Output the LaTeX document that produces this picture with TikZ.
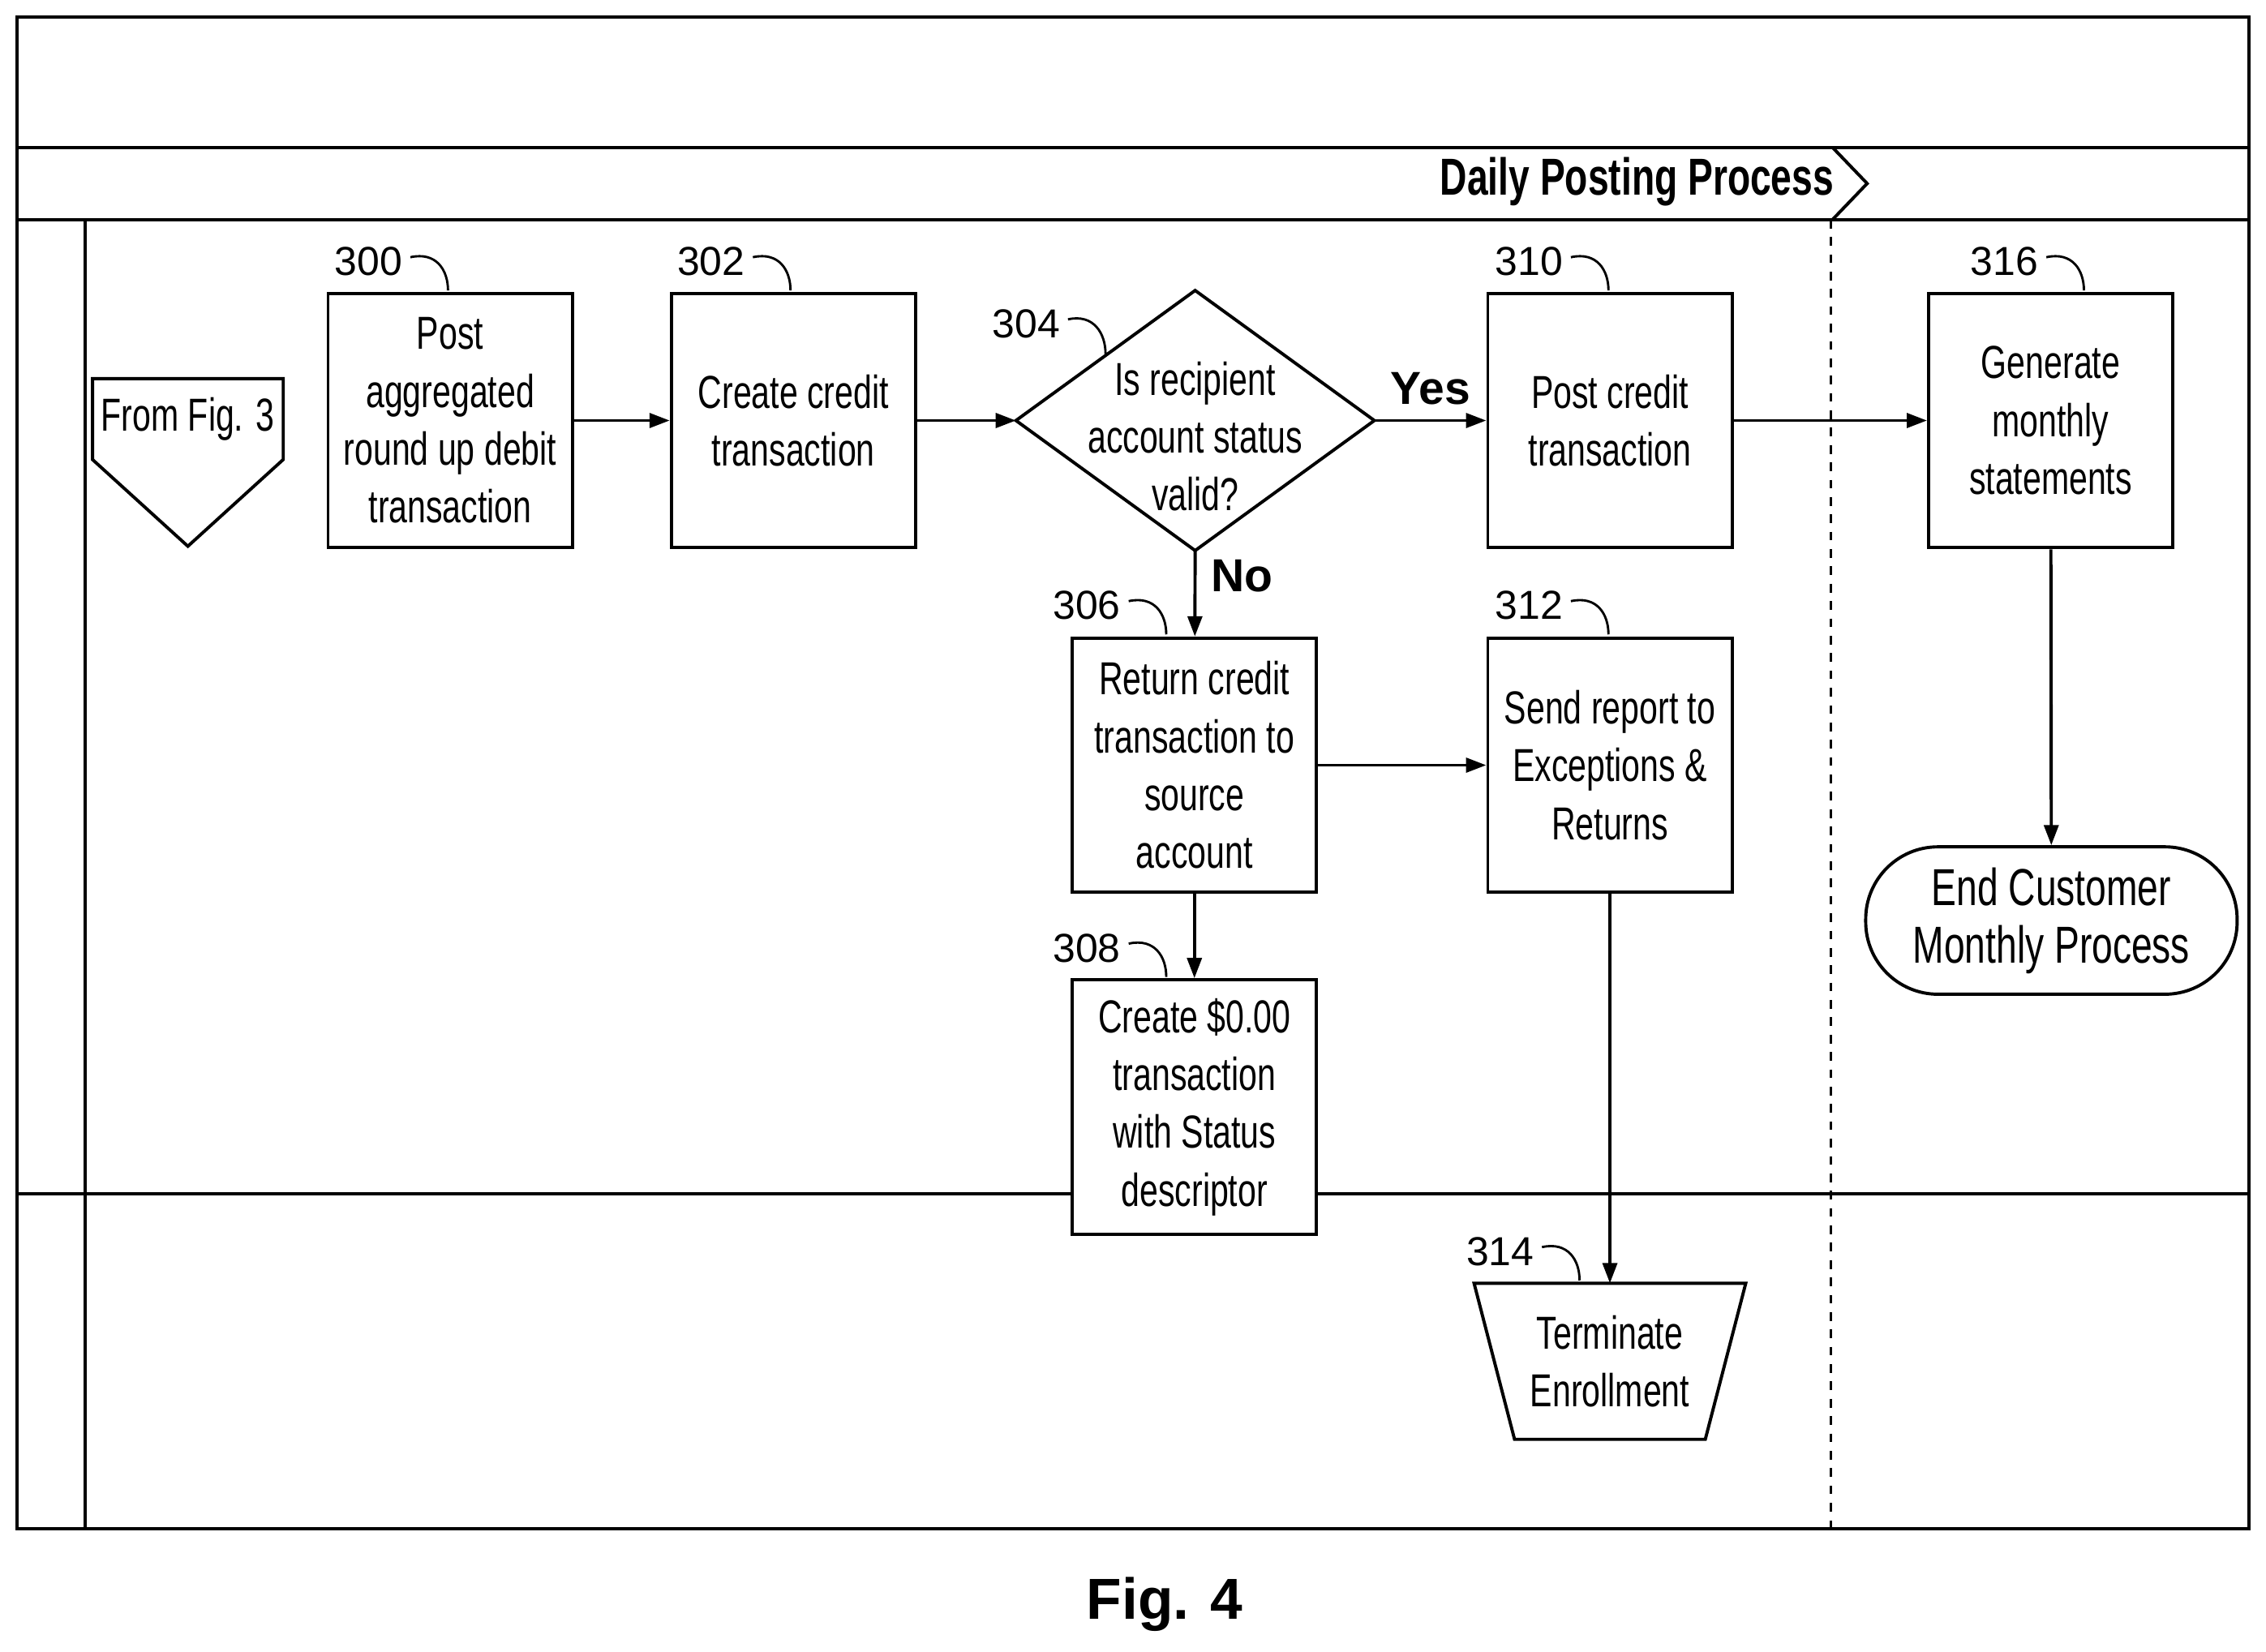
\documentclass[tikz,border=0pt]{standalone}
\usepackage{fontspec}
\setmainfont{Liberation Sans}
\newfontfamily\narrowfont{Liberation Sans}[FakeStretch=0.72]
\usetikzlibrary{arrows.meta,positioning}

\begin{document}
\begin{tikzpicture}[x=0.5pt, y=-0.5pt, line width=1.1pt]
    % Styles
    \tikzstyle{proc_box} = [rectangle, draw, fill=white, minimum width=84.5pt, minimum height=88pt, align=center, inner sep=1pt, font=\narrowfont\fontsize{16}{20}\selectfont]
    \tikzstyle{plain} = [align=center, inner sep=0pt, font=\narrowfont\fontsize{16}{20}\selectfont]
    \tikzstyle{arrow} = [-{Triangle[length=7pt, width=5pt]}]
    \tikzstyle{refnum} = [inner sep=0pt, font=\fontsize{14}{16}\selectfont]
    \tikzstyle{answer} = [inner sep=0pt, font=\bfseries\fontsize{16}{18}\selectfont]
    \newcommand{\refcurve}[2]{\draw[line width=0.8pt] #1 .. controls +(18,-4) and +(0,-14) .. #2;}

    \useasboundingbox (0,0) rectangle (1568,1143);

    % Frame and lanes
    \draw (12,12) rectangle (1556,1058);
    \draw (12,102) -- (1556,102);
    \draw (12,152) -- (1556,152);
    \draw (1268,102) -- (1292,127) -- (1268,152);
    \draw (59,152) -- (59,1058);
    \draw (12,826) -- (1556,826);
    \draw[dashed, line width=0.8pt] (1267,152) -- (1267,1058);
    \node[anchor=east, inner sep=0pt, font=\narrowfont\bfseries\fontsize{18}{20}\selectfont] (lane) at (1270,126) {Daily Posting Process};

    % Off-page connector
    \draw (64,262) -- (196,262) -- (196,318) -- (130,378) -- (64,318) -- cycle;
    \node[plain] (from) at (130,290) {From Fig. 3};

    % Steps
    \node[proc_box] (s300) at (311.5,291) {Post\\aggregated\\round up debit\\transaction};
    \node[proc_box] (s302) at (549,291) {Create credit\\transaction};
    \node[plain] (s304) at (827,302) {Is recipient\\account status\\valid?};
    \coordinate (d_l) at (703,291);
    \coordinate (d_r) at (951,291);
    \coordinate (d_t) at (827,201);
    \coordinate (d_b) at (827,381);
    \draw (d_l) -- (d_t) -- (d_r) -- (d_b) -- cycle;
    \node[proc_box] (s310) at (1114,291) {Post credit\\transaction};
    \node[proc_box] (s316) at (1419,291) {Generate\\monthly\\statements};
    \node[proc_box] (s306) at (826.5,529.5) {Return credit\\transaction to\\source\\account};
    \node[proc_box] (s312) at (1114,529.5) {Send report to\\Exceptions \&\\Returns};
    \node[proc_box] (s308) at (826.5,766) {Create \$0.00\\transaction\\with Status\\descriptor};
    \node[rectangle, rounded corners=25pt, draw, fill=white, minimum width=128.5pt, minimum height=51pt, align=center, inner sep=0pt, font=\narrowfont\fontsize{18}{20}\selectfont] (end) at (1419.5,637) {End Customer\\Monthly Process};
    \node[plain, minimum width=94pt, minimum height=54pt] (s314) at (1114,942) {Terminate\\Enrollment};
    \draw (1020,888) -- (1208,888) -- (1180,996) -- (1048,996) -- cycle;

    % Reference numbers
    \node[refnum] (n300) at (255,181) {300};
    \refcurve{(284,178)}{(310,201)}
    \node[refnum] (n302) at (492,181) {302};
    \refcurve{(521,178)}{(547,201)}
    \node[refnum] (n304) at (710,224) {304};
    \refcurve{(739,221)}{(765,245)}
    \node[refnum] (n306) at (752,419) {306};
    \refcurve{(781,416)}{(807,439)}
    \node[refnum] (n308) at (752,656) {308};
    \refcurve{(781,653)}{(807,676)}
    \node[refnum] (n310) at (1058,181) {310};
    \refcurve{(1087,178)}{(1113,201)}
    \node[refnum] (n312) at (1058,419) {312};
    \refcurve{(1087,416)}{(1113,439)}
    \node[refnum] (n314) at (1038,866) {314};
    \refcurve{(1067,863)}{(1093,886)}
    \node[refnum] (n316) at (1387,181) {316};
    \refcurve{(1416,178)}{(1442,201)}

    % Connections
    \draw[arrow] (s300) -- (s302);
    \draw[arrow] (s302) -- (d_l);
    \draw[arrow] (d_r) -- node[answer, above=5pt] {Yes} (s310);
    \draw[arrow] (s310) -- (s316);
    \draw[arrow] (d_b) -- node[answer, right=5pt, pos=0.3] {No} (s306);
    \draw[arrow] (s306) -- (s312);
    \draw[arrow] (s306) -- (s308);
    \draw[arrow] (s316) -- (end);
    \draw[arrow] (s312) -- (1114,888);

    \node[font=\bfseries\fontsize{20}{22}\selectfont] (fig) at (806,1110) {Fig. 4};
\end{tikzpicture}
\end{document}
